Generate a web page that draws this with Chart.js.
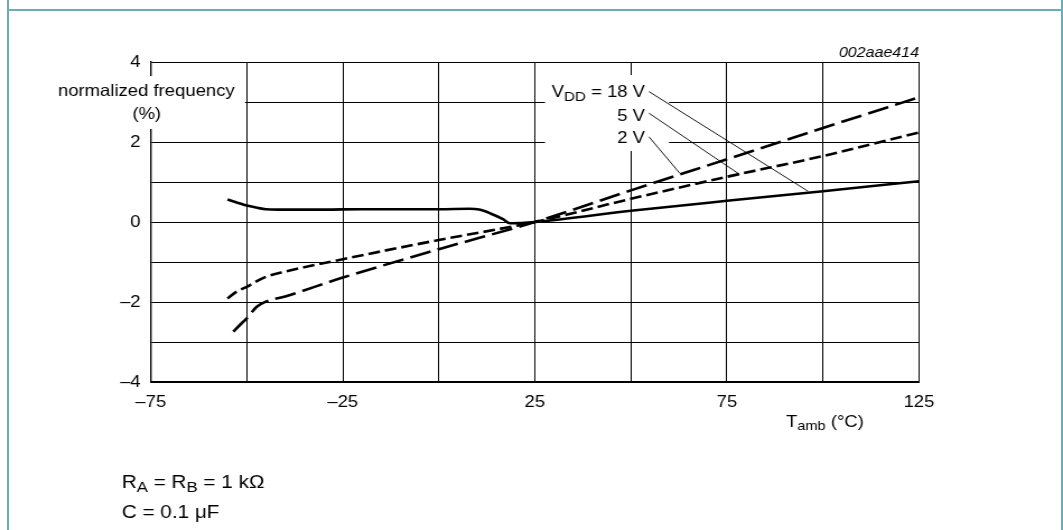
<!DOCTYPE html>
<html>
<head>
<meta charset="utf-8">
<script src="https://cdn.jsdelivr.net/npm/chart.js@4.4.1/dist/chart.umd.min.js"></script>
<style>
  html, body { margin: 0; padding: 0; background: #fff; overflow: hidden; }
  #page { position: relative; width: 1063px; height: 530px; }
  #chart { position: absolute; left: 0; top: 0; transform-origin: 0 0; }
  .rule { position: absolute; background: #6aaebb; }
</style>
</head>
<body>
<div id="page">
  <canvas id="chart" width="949" height="530"></canvas>
  <div class="rule" style="left:7px;top:0;width:2px;height:530px"></div>
  <div class="rule" style="left:1061px;top:0;width:2px;height:530px"></div>
  <div class="rule" style="left:7px;top:9px;width:1056px;height:1.5px"></div>
</div>
<script>
// normalized frequency (%) against T_amb (°C)
const tVdd18 = [-55, -52, -50, -47, -45, -42, -40, -30, -20, -10, 0, 8, 10.5, 13.3, 16.7, 18.5, 25, 50, 75, 100, 125];
const fVdd18 = [0.56, 0.47, 0.41, 0.35, 0.32, 0.31, 0.31, 0.31, 0.32, 0.32, 0.32, 0.33, 0.31, 0.22, 0.07, -0.03, 0.0, 0.28, 0.53, 0.77, 1.02];

const tVdd5 = [-55, -52.6, -50, -47, -45, -40, -25, 0, 25, 50, 75, 100, 125];
const fVdd5 = [-1.91, -1.74, -1.62, -1.46, -1.37, -1.24, -0.93, -0.45, 0.0, 0.58, 1.13, 1.65, 2.24];

const tVdd2 = [-53.5, -51, -50, -47.4, -45, -40, -25, 0, 25, 50, 75, 100, 125];
const fVdd2 = [-2.74, -2.5, -2.41, -2.12, -1.99, -1.86, -1.39, -0.68, 0.0, 0.79, 1.57, 2.35, 3.12];

// leader lines from the labels to their curves
const lead18 = [{ x: 54.7, y: 3.26 }, { x: 96.1, y: 0.77 }];
const lead5 = [{ x: 54.7, y: 2.72 }, { x: 78.3, y: 1.19 }];
const lead2 = [{ x: 54.7, y: 2.13 }, { x: 62.7, y: 1.22 }];

const xLabelled = [-75, -25, 25, 75, 125];
const yLabelled = [-4, -2, 0, 2, 4];

const CW = 949;
const SX = 1063 / CW;   // the figure is stretched sideways
const FONT = '"Liberation Sans", Arial, sans-serif';
document.getElementById('chart').style.transform = 'scaleX(' + SX + ')';

function pts(ts, vs) {
    return ts.map((t, i) => ({ x: t, y: vs[i] }));
}

function dash(v) {
    return v < 0 ? '\u2013' + Math.abs(v) : String(v);
}

// text with subscripts: parts = [[text, isSub], ...]
function rich(ctx, parts, x, y, size, subSize, align) {
    let w = 0;
    parts.forEach(p => {
        ctx.font = (p[1] ? subSize : size) + 'px ' + FONT;
        w += ctx.measureText(p[0]).width;
    });
    let cx = x;
    if (align === 'right') cx = x - w;
    if (align === 'center') cx = x - w / 2;
    ctx.textAlign = 'left';
    ctx.textBaseline = 'alphabetic';
    parts.forEach(p => {
        ctx.font = (p[1] ? subSize : size) + 'px ' + FONT;
        ctx.fillText(p[0], cx, y + (p[1] ? size * 0.22 : 0));
        cx += ctx.measureText(p[0]).width;
    });
}

const labelsPlugin = {
    id: 'labels',
    beforeDatasetsDraw(chart) {
        const ctx = chart.ctx;
        ctx.save();
        // white boxes behind the labels that sit on the grid
        ctx.fillStyle = '#fff';
        ctx.fillRect(55 / SX, 76, (245 - 55) / SX, 53);
        ctx.fillRect(545 / SX, 75, (669 - 545) / SX, 76);

        ctx.fillStyle = '#000';
        rich(ctx, [['normalized frequency', false]], 146.3 / SX, 95.5, 16.5, 13.5, 'center');
        rich(ctx, [['(%)', false]], 146.7 / SX, 119, 16.5, 13.5, 'center');

        rich(ctx, [['V', false], ['DD', true], [' = 18 V', false]], 645 / SX, 97.3, 16.5, 13.5, 'right');
        rich(ctx, [['5 V', false]], 645 / SX, 121, 16.5, 13.5, 'right');
        rich(ctx, [['2 V', false]], 645 / SX, 143.3, 16.5, 13.5, 'right');

        rich(ctx, [['T', false], ['amb', true], [' (\u00B0C)', false]], 786 / SX, 426.7, 16.5, 13, 'left');

        rich(ctx, [['R', false], ['A', true], [' = R', false], ['B', true], [' = 1 k\u03A9', false]], 121.7 / SX, 487.5, 18.5, 15, 'left');
        rich(ctx, [['C = 0.1 \u03BCF', false]], 121.7 / SX, 518, 18.5, 15, 'left');

        ctx.font = 'italic 14.3px ' + FONT;
        ctx.textAlign = 'right';
        ctx.fillText('002aae414', 919 / SX, 56.5);
        ctx.restore();
    }
};

const curve = {
    borderColor: '#000',
    borderWidth: 2.6,
    pointRadius: 0,
    fill: false,
    cubicInterpolationMode: 'monotone'
};
const leader = {
    borderColor: '#000',
    borderWidth: 0.9,
    pointRadius: 0,
    fill: false,
    tension: 0
};

new Chart(document.getElementById('chart'), {
    type: 'line',
    data: {
        datasets: [
            Object.assign({ label: 'VDD = 18 V', data: pts(tVdd18, fVdd18) }, curve),
            Object.assign({ label: '5 V', data: pts(tVdd5, fVdd5), borderDash: [10.5, 4.5] }, curve),
            Object.assign({ label: '2 V', data: pts(tVdd2, fVdd2), borderDash: [19, 6.5] }, curve),
            Object.assign({ label: 'lead 18 V', data: lead18 }, leader),
            Object.assign({ label: 'lead 5 V', data: lead5 }, leader),
            Object.assign({ label: 'lead 2 V', data: lead2 }, leader)
        ]
    },
    options: {
        responsive: false,
        animation: false,
        events: [],
        layout: { padding: { left: 0, top: 62, right: CW - 919 / SX, bottom: 0 } },
        plugins: { legend: { display: false }, tooltip: { enabled: false } },
        scales: {
            x: {
                type: 'linear',
                min: -75,
                max: 125,
                afterFit: s => { s.height = 148; },
                grid: { color: '#000', lineWidth: 1, drawTicks: false },
                border: { color: '#000', width: 2 },
                ticks: {
                    stepSize: 25,
                    padding: 11,
                    color: '#000',
                    font: { family: FONT, size: 16.5 },
                    maxRotation: 0,
                    autoSkip: false,
                    callback: v => xLabelled.includes(v) ? dash(v) : ''
                }
            },
            y: {
                min: -4,
                max: 4,
                afterFit: s => { s.width = 150.7 / SX; },
                grid: { color: '#000', lineWidth: 1, drawTicks: false },
                border: { color: '#000', width: 1.4 },
                ticks: {
                    stepSize: 1,
                    padding: 9,
                    color: '#000',
                    font: { family: FONT, size: 16.5 },
                    autoSkip: false,
                    callback: v => yLabelled.includes(v) ? dash(v) : ''
                }
            }
        }
    },
    plugins: [labelsPlugin]
});
</script>
</body>
</html>
